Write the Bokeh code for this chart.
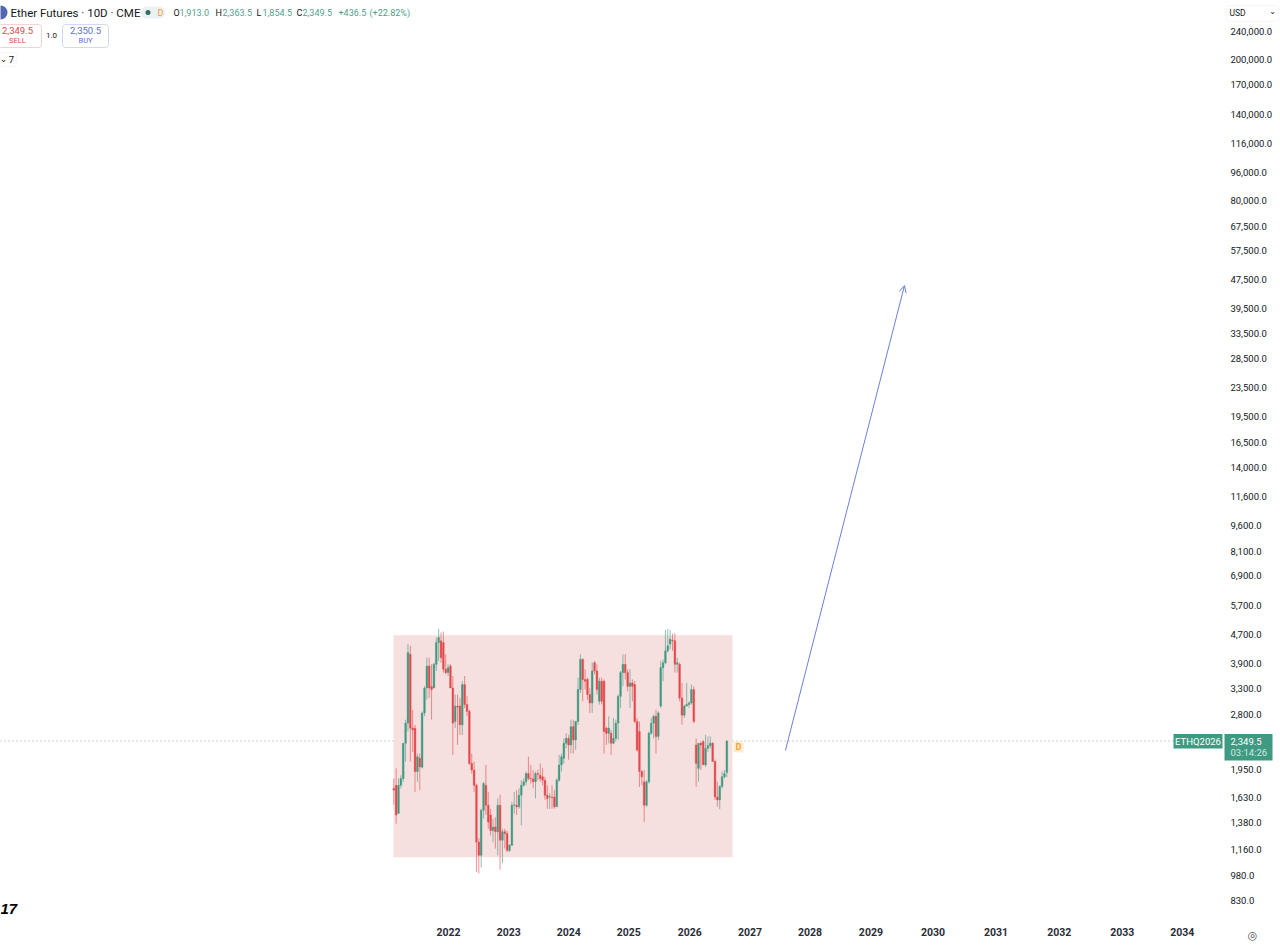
from bokeh.plotting import figure
from bokeh.models import (Range1d, FixedTicker, NumeralTickFormatter, BoxAnnotation, Label,
                          Arrow, OpenHead)
from bokeh.embed import file_html
from bokeh.resources import INLINE
import numpy as np

opens = [1725,1760,1465,1760,1840,2315,2640,4135,2555,2555,1925,2100,1980,2820,3320,3830,3355,3320,3875,4465,4515,4465,3750,3670,3830,3320,2670,2950,2950,2610,3395,2980,2850,2030,1945,1760,1215,1115,1495,1760,1545,1450,1310,1340,1300,1545,1230,1300,1285,1150,1190,1545,1545,1530,1650,1760,1800,1900,1840,1835,1800,1900,1880,1860,1820,1650,1630,1630,1630,1530,1820,2010,2100,2315,2390,2290,
         2580,2365,2670,3285,4000,3510,3510,3180,3010,3915,3710,3045,3470,3470,2555,2470,2470,2315,2390,2640,3145,3670,3875,3670,3355,3430,3395,2670,2500,1925,1800,1545,1800,2470,2640,2760,2420,2950,3790,3915,4230,4420,4535,4515,3875,3875,3110,2780,2950,2980,3010,3285,2290,1965,2315,2340,2010,2240,2280,2315,2055,1630,1600,1745,1860,1913.0]
highs = [1840,1965,1840,1880,2315,2700,4420,4370,2880,2610,2165,2165,2850,3355,4045,4045,3875,3915,4615,4880,4770,4800,4135,3875,3875,3590,3180,3180,3110,3470,3590,3145,2880,2165,2055,1780,1245,1510,1800,2010,1685,1510,1415,1430,1615,1655,1325,1325,1310,1200,1580,1685,1705,1725,1820,1840,1925,2120,2010,1945,1925,1945,2030,1965,1860,1760,1670,1760,1705,1840,2145,2165,2390,2470,2445,2700,
         2700,2670,3550,4135,4030,3750,3550,3320,3915,3960,3875,3550,3550,3510,2580,2760,2525,2730,2700,3180,3710,4135,4135,3750,3750,3510,3470,2730,2670,1945,1945,1820,2500,2730,2790,2880,2850,3960,4000,4850,4880,4850,4720,4750,4045,3915,3430,2980,3430,3045,3395,3355,2390,2315,2340,2365,2445,2420,2420,2330,2080,1800,1760,1925,1945,2363.5]
lows = [1550,1370,1565,1725,1800,2055,2500,2055,2190,1685,1800,1705,1965,2760,3075,3110,2700,3355,3710,3960,3915,3670,3630,3590,3320,2145,2555,2290,2445,2445,2915,2760,2010,1900,1685,1000,990,1030,1415,1450,1325,1270,1215,1165,1115,1015,1060,1165,1140,1140,1185,1465,1450,1510,1355,1745,1760,1820,1780,1725,1615,1820,1800,1760,1600,1510,1510,1510,1510,1530,1800,1925,2030,2240,2080,2165,
        2165,2215,2610,3215,3045,3285,3075,2820,2820,3630,3180,2980,2980,2165,2290,2315,2145,2300,2340,2365,2915,3355,3510,3250,2915,3045,2640,2190,1740,1760,1385,1530,1780,2445,2390,2165,2365,2915,3470,3875,4185,4280,4230,3670,3670,3045,2610,2730,2945,2915,2980,2640,1740,1800,1945,2010,1985,2190,2240,2055,1600,1530,1505,1725,1840,1854.5]
closes = [1705,1450,1760,1840,2315,2640,4185,2555,2525,1925,2120,1985,2820,3320,3830,3320,3285,3875,4465,4615,4045,3750,3670,3790,3320,2640,2950,2930,2610,3395,2980,2850,2030,1945,1760,1215,1115,1495,1780,1545,1385,1310,1340,1300,1545,1230,1300,1285,1150,1190,1545,1550,1530,1650,1760,1800,1900,1840,1835,1800,1900,1890,1840,1820,1650,1615,1635,1625,1530,1820,2010,2120,2315,2390,2290,2580,
          2365,2670,3285,4000,3510,3470,3180,3010,3710,3710,3285,3470,3045,2500,2470,2555,2315,2390,2640,3145,3670,3875,3670,3355,3430,3355,2670,2215,1925,1860,1545,1800,2470,2640,2760,2420,2820,3790,3915,4230,4370,4565,4515,3875,3915,3110,2780,2950,2980,3010,3285,2670,2030,2315,2290,2010,2240,2280,2315,2055,1630,1600,1745,1860,1900,2349.5]

price_ticks = [240000,200000,170000,140000,116000,96000,80000,67500,57500,47500,39500,33500,28500,23500,19500,16500,14000,11600,9600,8100,6900,5700,4700,3900,3300,2800,1950,1630,1380,1160,980,830]
year_labels = ["2022","2023","2024","2025","2026","2027","2028","2029","2030","2031","2032","2033","2034"]
year_ticks = [23.2,48.7,74.1,99.5,125.3,150.8,176.2,202.0,228.3,255.0,281.7,308.4,333.8]

last_price = 2349.5
zone_left, zone_right, zone_top, zone_bottom = -0.1, 143.4, 4680, 1100
arrow_x0, arrow_y0, arrow_x1, arrow_y1 = 165.8, 2208, 216.2, 45800
line_x0, line_x1 = -166.5, 330

GREEN = "#3f9a82"
RED = "#e2494b"
INK = "#131722"
FONT = "Roboto"

p = figure(width=1280, height=946, frame_width=1280, frame_height=946,
           x_range=Range1d(-166.5, 375.4), y_range=Range1d(615, 294000),
           y_axis_type="log", y_axis_location="right",
           output_backend="svg", toolbar_location=None,
           min_border_left=0, min_border_top=0, min_border_right=0, min_border_bottom=0,
           background_fill_color="white", border_fill_color="white")
p.outline_line_color = None
p.grid.visible = False

ax = p.yaxis[0]
ax.fixed_location = 352.5
ax.ticker = FixedTicker(ticks=price_ticks)
ax.formatter = NumeralTickFormatter(format="0,0.0")
ax.axis_line_color = None
ax.major_tick_line_color = None
ax.minor_tick_line_color = None
ax.major_tick_out = 0
ax.major_label_standoff = 4
ax.major_label_text_font = FONT
ax.major_label_text_font_size = "9.5px"
ax.major_label_text_color = INK

xa = p.xaxis[0]
xa.fixed_location = 719
xa.ticker = FixedTicker(ticks=year_ticks)
xa.major_label_overrides = dict(zip(year_ticks, year_labels))
xa.axis_line_color = None
xa.major_tick_line_color = None
xa.minor_tick_line_color = None
xa.major_tick_out = 0
xa.major_label_standoff = 5
xa.major_label_text_font = FONT
xa.major_label_text_font_style = "bold"
xa.major_label_text_font_size = "10.5px"
xa.major_label_text_color = "#2a2e39"

p.add_layout(BoxAnnotation(left=zone_left, right=zone_right, top=zone_top, bottom=zone_bottom,
                           fill_color="#f6dfdf", fill_alpha=1, line_color=None, level="underlay"))
p.line([line_x0, line_x1], [last_price, last_price], line_color="#9a9a9a",
       line_dash="1 3", line_width=1, level="underlay")

x = np.arange(len(opens))
o, h, l, c = map(np.array, (opens, highs, lows, closes))
up = c >= o
for mask, col in ((up, GREEN), (~up, RED)):
    p.segment(x[mask], h[mask], x[mask], l[mask], line_color=col, line_alpha=0.6, line_width=1)
    p.vbar(x[mask], width=0.72, top=np.maximum(o, c)[mask], bottom=np.minimum(o, c)[mask],
           fill_color=col, line_color=col, line_width=0.4)

p.add_layout(Arrow(x_start=arrow_x0, y_start=arrow_y0, x_end=arrow_x1, y_end=arrow_y1,
                   line_color="#6a7fe0", line_width=1,
                   end=OpenHead(size=7, line_color="#6a7fe0", line_width=1)))

FB = 946  # page y of the frame's bottom edge


def box(x0, x1, y0, y1, fill, line=None, radius=0):
    p.add_layout(BoxAnnotation(left=x0, right=x1, top=FB - y0, bottom=FB - y1,
                               left_units="screen", right_units="screen",
                               top_units="screen", bottom_units="screen",
                               fill_color=fill, fill_alpha=1, line_color=line, line_width=1,
                               border_radius=radius, level="annotation"))


def text(px, py, s, size, color=INK, align="left", style="normal", font=FONT):
    p.add_layout(Label(x=px, y=FB - py, x_units="screen", y_units="screen", text=s,
                       text_font=font, text_font_size=f"{size}px", text_color=color,
                       text_align=align, text_baseline="middle", text_font_style=style,
                       level="annotation"))


GTXT = "#4f9f8c"
box(-7, 7, 5, 19, "#5566b0", radius=7)
text(10, 12, "Ether Futures · 10D · CME", 11.5, INK)
box(140, 165, 6, 18, "#eef1f3", radius=6)
box(145, 150, 9.5, 14.5, "#2f6f62", radius=3)
text(160, 12, "D", 9, "#f0a030", "center")
for px, s, col in [(173, "O", INK), (179, "1,913.0", GTXT), (215, "H", INK), (222, "2,363.5", GTXT),
                   (256, "L", INK), (262, "1,854.5", GTXT), (296, "C", INK), (302, "2,349.5", GTXT),
                   (338, "+436.5", GTXT), (369, "(+22.82%)", GTXT)]:
    text(px, 12, s, 9, col)

box(-5, 41, 24, 47, "white", "#d9686a", 3)
text(17, 30, "2,349.5", 9.5, "#d9484a", "center")
text(17, 40, "SELL", 7.5, "#d9484a", "center")
text(51, 34.5, "1.0", 8, INK, "center")
box(62, 108, 24, 47, "white", "#6a7fe0", 3)
text(85, 30, "2,350.5", 9.5, "#5a6fd8", "center")
text(85, 40, "BUY", 7.5, "#5a6fd8", "center")
box(-5, 16, 52, 66, "white", "#e0e3eb", 2)
text(3, 58, "⌄", 9, INK, "center", font="DejaVu Sans")
text(11, 59, "7", 9.5, INK, "center")

box(1226, 1278, 5, 21, "white", "#e0e3eb", 2)
text(1229, 12.5, "USD", 8.5, INK)
text(1272, 11, "⌄", 8, INK, "center", font="DejaVu Sans")

box(733, 743, 741, 752, "#fdeccb", radius=2)
text(738, 746.5, "D", 8.5, "#eea030", "center", "bold")
box(1173, 1222, 733.5, 748, GREEN)
text(1197.5, 741, "ETHQ2026", 9.5, "white", "center")
box(1224, 1272, 733.5, 760, GREEN)
text(1230, 741, "2,349.5", 9.5, "white")
text(1230, 752, "03:14:26", 9.5, "#cfe8e0")

text(0, 908, "17", 15, "#000000", style="bold italic", font="Liberation Sans")
text(1252, 935, "◎", 11, "#4a4e59", "center", font="DejaVu Sans")

open("out.html", "w").write(file_html(p, INLINE))
